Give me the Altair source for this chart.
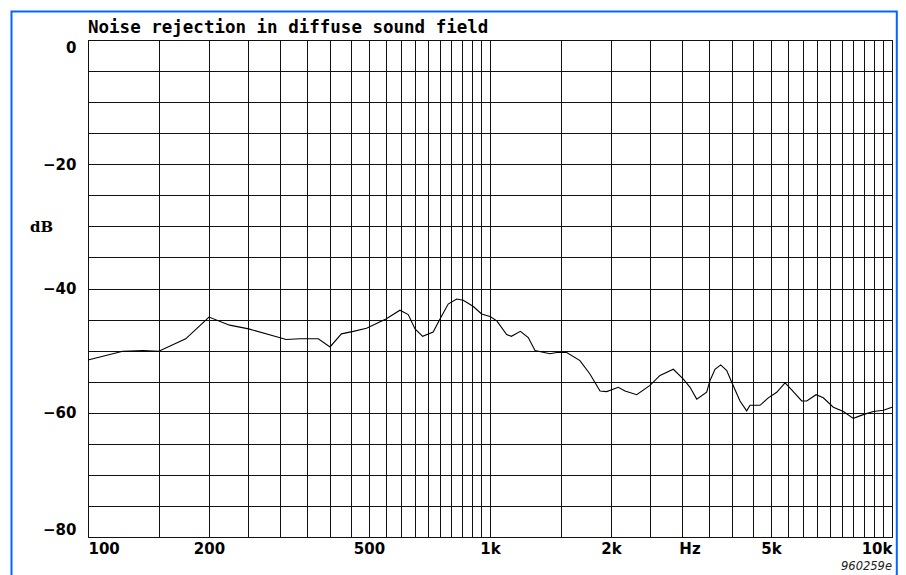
import altair as alt
import pandas as pd

# Measured response (frequency in Hz, level in dB)
freq = [100, 122, 137, 150, 175, 200, 225, 251, 299, 311, 337, 374, 400, 427, 457,
        493, 551, 597, 626, 651, 680, 722, 751, 787, 826, 858, 909, 953, 1000, 1040,
        1100, 1130, 1190, 1245, 1294, 1410, 1465, 1552, 1674, 1774, 1878, 1951, 2085,
        2167, 2317, 2500, 2648, 2858, 3027, 3145, 3268, 3459, 3527, 3628, 3749, 3881,
        3993, 4187, 4350, 4434, 4695, 4923, 5166, 5420, 5630, 5963, 6137, 6473, 6746,
        7146, 7569, 8012, 8484, 8984, 9518, 10000]
level = [-51.5, -50.1, -50.0, -50.1, -48.1, -44.6, -45.9, -46.5, -47.9, -48.2, -48.1,
         -48.1, -49.4, -47.3, -46.9, -46.4, -44.9, -43.5, -44.2, -46.5, -47.7, -47.0,
         -44.9, -42.5, -41.7, -41.9, -42.9, -44.1, -44.5, -45.2, -47.4, -47.7, -46.9,
         -47.9, -50.0, -50.5, -50.3, -50.3, -51.6, -53.8, -56.5, -56.6, -55.9, -56.5,
         -57.1, -55.6, -54.0, -53.0, -54.6, -55.9, -57.8, -56.7, -54.8, -53.0, -52.3,
         -53.2, -55.1, -58.1, -59.7, -58.8, -58.8, -57.6, -56.7, -55.2, -56.3, -58.1,
         -58.1, -57.1, -57.6, -59.1, -59.8, -60.9, -60.3, -59.8, -59.6, -59.1]

x_grid = list(range(100, 1001, 50)) + list(range(1500, 10001, 500))
x_label_values = [100, 200, 500, 1000, 2000, 5000, 10000]
x_label_texts = ["100", "200", "500", "1k", "2k", "5k", "10k"]
y_grid = list(range(0, -81, -5))
y_label_values = [0, -20, -40, -60, -80]

title_text = "Noise rejection in diffuse sound field"
x_unit = "Hz"
y_unit = "dB"
note_text = "960259e"

df = pd.DataFrame({"f": freq, "db": level})

x_label_expr = " : ".join(
    f"datum.value == {v} ? '{t}'" for v, t in zip(x_label_values, x_label_texts)
) + " : ''"
y_label_expr = " || ".join(f"datum.value == {v}" for v in y_label_values)
y_label_expr = f"({y_label_expr}) ? datum.label : ''"

LABEL_FONT = "DejaVu Sans"
GRID = "#111111"

line = alt.Chart(df).mark_line(color="#000000", strokeWidth=1.1).encode(
    x=alt.X(
        "f:Q",
        scale=alt.Scale(type="log", domain=[100, 10000], nice=False, zero=False),
        axis=alt.Axis(
            values=x_grid, labelExpr=x_label_expr, grid=True, gridColor=GRID,
            gridOpacity=1, gridWidth=1, ticks=False, tickSize=0, domain=False,
            labelPadding=4, labelFlush=True, labelOverlap=False, labelBound=False,
            labelFont=LABEL_FONT, labelFontSize=15, labelFontWeight="bold",
            labelColor="black",
            title=x_unit, titleX=601.5, titleY=4, titleAlign="center",
            titleBaseline="top", titleFont=LABEL_FONT, titleFontSize=15,
            titleFontWeight="bold", titleColor="black",
        ),
    ),
    y=alt.Y(
        "db:Q",
        scale=alt.Scale(domain=[-80, 0], nice=False, zero=False),
        axis=alt.Axis(
            values=y_grid, labelExpr=y_label_expr, grid=True, gridColor=GRID,
            gridOpacity=1, gridWidth=1, ticks=False, tickSize=0, domain=False,
            labelPadding=12, labelFlush=True, labelOverlap=False, labelBound=False,
            labelFont=LABEL_FONT, labelFontSize=15, labelFontWeight="bold",
            labelColor="black",
            title=y_unit, titleAngle=0, titleX=-47, titleY=186.4, titleAlign="center",
            titleBaseline="middle", titleFont="DejaVu Serif", titleFontSize=15,
            titleFontWeight="bold", titleColor="black",
        ),
    ),
)

frame = alt.Chart(alt.Data(values=[{}])).mark_rect(
    filled=False, stroke="#0066ff", strokeWidth=2
).encode(
    x=alt.value(-76.5), x2=alt.value(808.8), y=alt.value(-28.5), y2=alt.value(600)
)

title = alt.Chart(alt.Data(values=[{}])).mark_text(
    align="left", baseline="alphabetic", font="DejaVu Sans Mono", fontSize=17.5,
    fontWeight="bold", color="black"
).encode(x=alt.value(0), y=alt.value(-7), text=alt.value(title_text))

note = alt.Chart(alt.Data(values=[{}])).mark_text(
    align="right", baseline="alphabetic", font="DejaVu Sans", fontStyle="italic",
    fontSize=11.5, color="#222222"
).encode(x=alt.value(804), y=alt.value(530), text=alt.value(note_text))

chart = alt.layer(line, frame, title, note).properties(
    width=804,
    height=497,
    autosize=alt.AutoSizeParams(type="none"),
    padding={"left": 80, "top": 32, "right": 6, "bottom": 38},
    background="white",
).configure_view(stroke="black", strokeWidth=1)

chart.save("out.html", embed_options={"renderer": "svg", "actions": False})
